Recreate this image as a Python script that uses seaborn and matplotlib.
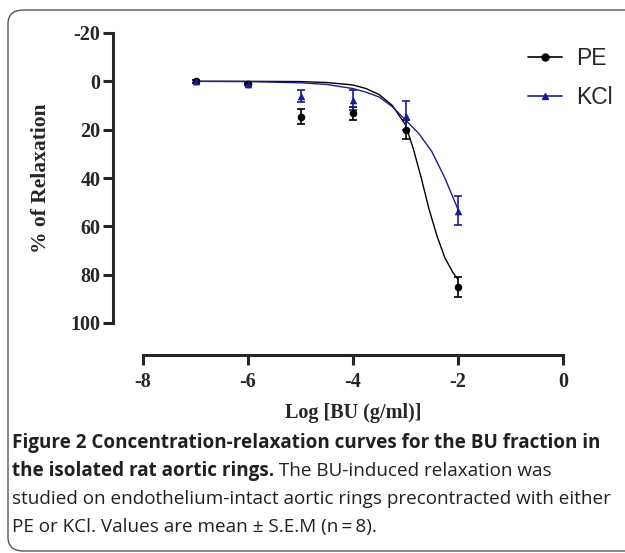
import matplotlib
matplotlib.use("Agg")
import matplotlib.pyplot as plt
from matplotlib.patches import FancyBboxPatch
from matplotlib.lines import Line2D
import seaborn as sns
import pandas as pd

# measured points (mean +- SEM)
log_conc = [-7, -6, -5, -4, -3, -2]
pe_mean = [0, 1, 14.6, 13.3, 20, 85.2]
pe_sem = [0.5, 0.5, 3, 2.5, 4, 4.2]
kcl_mean = [0, 1, 6, 7.7, 14.2, 53.5]
kcl_sem = [0.5, 0.5, 2.5, 4, 6, 6]

# fitted curves
pe_fit_x = [-7, -6, -5, -4.5, -4, -3.75, -3.5, -3.25, -3, -2.85, -2.7, -2.55, -2.4, -2.25, -2.1, -2]
pe_fit_y = [0, 0, 0.1, 0.5, 1.5, 3, 5.5, 10, 18, 28, 40, 53, 64, 73, 79, 82]
kcl_fit_x = [-7, -6, -5, -4.5, -4, -3.75, -3.5, -3.25, -3, -2.75, -2.5, -2.25, -2]
kcl_fit_y = [0, 0.1, 0.6, 1.3, 3, 4.5, 6.5, 10.5, 16, 21.5, 29, 40, 53]

x_ticks = [-8, -6, -4, -2, 0]
y_ticks = [-20, 0, 20, 40, 60, 80, 100]

caption_bold = ["Figure 2 Concentration-relaxation curves for the BU fraction in",
                "the isolated rat aortic rings."]
caption_rest = [" The BU-induced relaxation was",
                "studied on endothelium-intact aortic rings precontracted with either",
                "PE or KCl. Values are mean \u00b1 S.E.M (n\u2009=\u20098)."]

sns.set_style("ticks")
plt.rcParams['font.family'] = ['DejaVu Sans']
plt.rcParams['axes.unicode_minus'] = False

W, H = 625, 553
fig = plt.figure(figsize=(W / 100, H / 100), dpi=100)
navy = "#1c1c8c"

ax = fig.add_axes([143 / W, 1 - 323 / H, 420 / W, 290 / H])

pe = pd.DataFrame({"x": pe_fit_x, "y": pe_fit_y})
kc = pd.DataFrame({"x": kcl_fit_x, "y": kcl_fit_y})
sns.lineplot(data=pe, x="x", y="y", color="black", lw=1.0, ax=ax)
sns.lineplot(data=kc, x="x", y="y", color=navy, lw=1.0, ax=ax)

ax.errorbar(log_conc, pe_mean, yerr=pe_sem, fmt="none", ecolor="black",
            elinewidth=1.2, capsize=3, capthick=1.2)
ax.errorbar(log_conc, kcl_mean, yerr=kcl_sem, fmt="none", ecolor=navy,
            elinewidth=1.2, capsize=3, capthick=1.2)
sns.scatterplot(x=log_conc, y=pe_mean, marker="o", color="black", s=30,
                edgecolor="black", linewidth=0, ax=ax, zorder=5)
sns.scatterplot(x=log_conc, y=kcl_mean, marker="^", color=navy, s=30,
                edgecolor=navy, linewidth=0, ax=ax, zorder=5)

ax.set_xlim(-8, 0)
ax.set_ylim(100, -20)
ax.set_xticks(x_ticks)
ax.set_yticks(y_ticks)
sns.despine(ax=ax)
ax.spines['left'].set_position(('outward', 21.6))
ax.spines['bottom'].set_position(('outward', 23))
for s in ['left', 'bottom']:
    ax.spines[s].set_linewidth(2.2)
ax.tick_params(width=2.2, length=7)
ax.tick_params(axis="x", pad=5)
ax.tick_params(axis="y", pad=2)

tick_font = dict(family="Liberation Serif", weight="bold", size=14.5)
for lab in ax.get_xticklabels() + ax.get_yticklabels():
    lab.set_fontproperties(matplotlib.font_manager.FontProperties(**tick_font))
ax.set_xlabel("Log [BU (g/ml)]", fontfamily="Liberation Serif", fontweight="bold",
              fontsize=14.5, labelpad=8)
ax.set_ylabel("% of Relaxation", fontfamily="Liberation Serif", fontweight="bold",
              fontsize=15.5, labelpad=14)

handles = [Line2D([], [], color="black", marker="o", ms=5, lw=1.2),
           Line2D([], [], color=navy, marker="^", ms=5, lw=1.2)]
fig.legend(handles, ["PE", "KCl"], loc="upper left", bbox_to_anchor=(507 / W, 1 - 26 / H),
           frameon=False, prop=dict(family="Liberation Sans", size=16.5),
           handlelength=1.5, handletextpad=0.6, labelspacing=0.7)

# rounded frame around figure and caption
box = FancyBboxPatch((8 / W, 2 / H), 640 / W, 541 / H,
                     boxstyle="round,pad=0,rounding_size=0.025",
                     transform=fig.transFigure, fill=False, ec="#555555", lw=1.0)
fig.patches.append(box)

cap_font = "Open Sans"
cap_size = 13.6
x0 = 12 / W
ys = [443, 471, 499, 527]
fig.text(x0, 1 - ys[0] / H, caption_bold[0], fontfamily=cap_font, fontweight="bold",
         fontsize=cap_size, color="#231f20", va="center")
t = fig.text(x0, 1 - ys[1] / H, caption_bold[1], fontfamily=cap_font, fontweight="bold",
             fontsize=cap_size, color="#231f20", va="center")
fig.canvas.draw()
bb = t.get_window_extent(fig.canvas.get_renderer())
fig.text(bb.x1 / W, 1 - ys[1] / H, caption_rest[0], fontfamily=cap_font,
         fontsize=cap_size, color="#231f20", va="center")
for i, line in enumerate(caption_rest[1:]):
    fig.text(x0, 1 - ys[2 + i] / H, line, fontfamily=cap_font,
             fontsize=cap_size, color="#231f20", va="center")

fig.savefig("out.png", dpi=100)
